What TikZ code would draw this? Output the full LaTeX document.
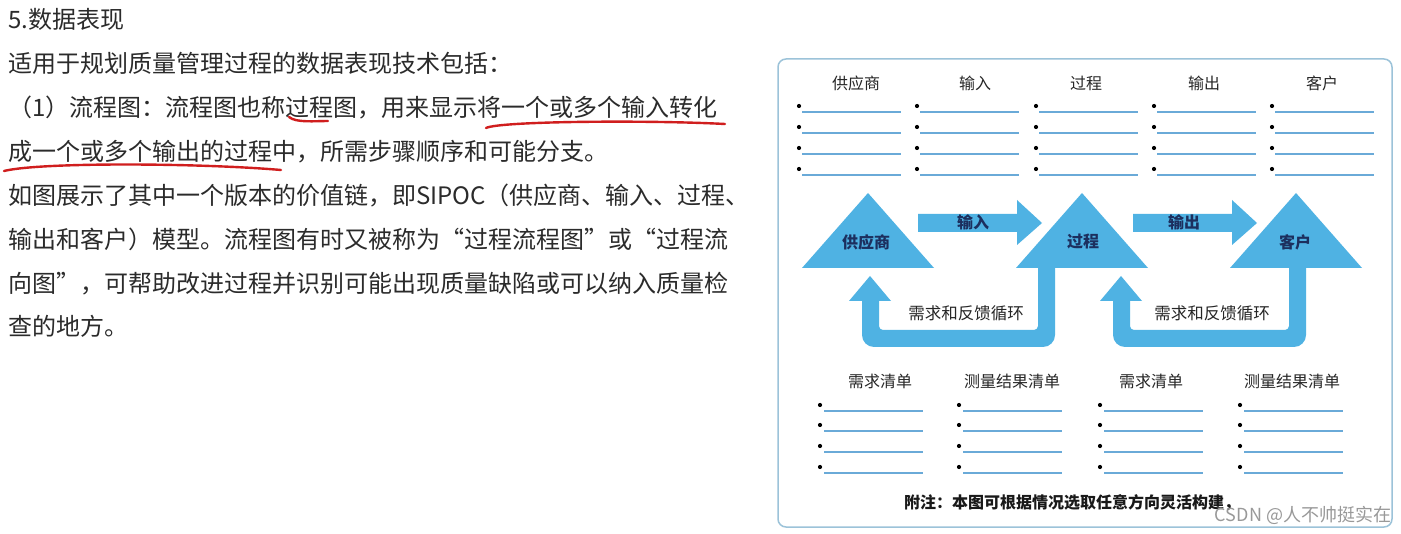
\documentclass[tikz,border=0pt]{standalone}
\usepackage{fontspec}
\setmainfont{Noto Sans CJK SC}
\definecolor{sipoc}{HTML}{4FB2E3}
\definecolor{navy}{HTML}{1C2F5E}
\definecolor{rulecol}{HTML}{6AAAD8}
\definecolor{framecol}{HTML}{9CC3D9}
\definecolor{pen}{HTML}{D01E1E}
\definecolor{bodycol}{HTML}{2B2B2B}
\begin{document}
\begin{tikzpicture}[x=1pt,y=-1pt,
  para/.style={anchor=base west, inner sep=0pt, text=bodycol, font=\fontsize{24}{24}\selectfont},
  hdr/.style={inner sep=0pt, text=black!85, font=\fontsize{16}{16}\selectfont},
  shape fill/.style={fill=sipoc, draw=none},
  trilabel/.style={inner sep=0pt, text=navy, font=\bfseries\fontsize{16}{16}\selectfont},
  looplabel/.style={inner sep=0pt, text=black!85, font=\fontsize{16.5}{16.5}\selectfont},
  listline/.style={draw=rulecol, line width=1.3pt},
  bulletdot/.style={fill=black},
  redmark/.style={draw=pen, line width=2.4pt, line cap=round},
]
\useasboundingbox (0,0) rectangle (1401,534);
\fill[white] (0,0) rectangle (1401,534);

% ---------- left text ----------
\node[para] (l1) at (8,29)  {5.数据表现};
\node[para] (l2) at (8,73)  {适用于规划质量管理过程的数据表现技术包括：};
\node[para] (l3) at (8,117) {（1）流程图：流程图也称过程图，用来显示将一个或多个输入转化};
\node[para] (l4) at (8,161) {成一个或多个输出的过程中，所需步骤顺序和可能分支。};
\node[para] (l5) at (8,205) {如图展示了其中一个版本的价值链，即SIPOC（供应商、输入、过程、};
\node[para] (l6) at (8,249) {输出和客户）模型。流程图有时又被称为“过程流程图”或“过程流};
\node[para] (l7) at (8,293) {向图”，可帮助改进过程并识别可能出现质量缺陷或可以纳入质量检};
\node[para] (l8) at (8,336) {查的地方。};

% red hand-drawn underlines
\draw[redmark] (289,117) .. controls (296,123) and (315,121) .. (328,121);
\draw[redmark] (486,128) .. controls (500,121) and (650,120) .. (725,124);
\draw[redmark] (4,171) .. controls (40,162) and (200,163) .. (281,170);

% ---------- frame ----------
\draw[framecol, line width=1.5pt, rounded corners=8pt] (778,59) rectangle (1392,527);

% top headers
\node[hdr] (hS) at (856,83)  {供应商};
\node[hdr] (hI) at (975,83)  {输入};
\node[hdr] (hP) at (1086,83) {过程};
\node[hdr] (hO) at (1204,83) {输出};
\node[hdr] (hC) at (1322,83) {客户};

\foreach \bx in {799,917,1036,1154,1272} {
  \foreach \by in {106,127,148,169} {
    \fill[bulletdot] (\bx,\by) circle[radius=2.1];
    \draw[listline] (\bx+3,\by+6) -- (\bx+102,\by+6);
  }
}

% ---------- triangles ----------
\fill[shape fill] (802,268) -- (934,268) -- (868,193) -- cycle;
\fill[shape fill] (1016,268) -- (1148,268) -- (1082,193) -- cycle;
\fill[shape fill] (1230,268) -- (1362,268) -- (1296,193) -- cycle;

% block arrows
\fill[shape fill] (918,214) -- (1017,214) -- (1017,200) -- (1042,223) -- (1017,245) -- (1017,232) -- (918,232) -- cycle;
\fill[shape fill] (1133,214) -- (1232,214) -- (1232,200) -- (1257,223) -- (1232,245) -- (1232,232) -- (1133,232) -- cycle;

% feedback loops
\fill[shape fill] (870,276) -- (891,301) -- (879,301) -- (879,326)
  arc[start angle=180, end angle=90, radius=4] -- (1034,330)
  arc[start angle=90, end angle=0, radius=4] -- (1038,266) -- (1055,266) -- (1055,335)
  arc[start angle=0, end angle=90, radius=12] -- (874,347)
  arc[start angle=90, end angle=180, radius=12] -- (862,301) -- (849,301) -- cycle;
\fill[shape fill] (1121,276) -- (1142,301) -- (1130,301) -- (1130,326)
  arc[start angle=180, end angle=90, radius=4] -- (1285,330)
  arc[start angle=90, end angle=0, radius=4] -- (1289,266) -- (1306,266) -- (1306,335)
  arc[start angle=0, end angle=90, radius=12] -- (1125,347)
  arc[start angle=90, end angle=180, radius=12] -- (1113,301) -- (1100,301) -- cycle;

\node[trilabel] (tS) at (866,242)  {供应商};
\node[trilabel] (tP) at (1083,242) {过程};
\node[trilabel] (tC) at (1295,242) {客户};
\node[trilabel] (aI) at (973,222)  {输入};
\node[trilabel] (aO) at (1184,222) {输出};
\node[looplabel] (f1) at (966,313)  {需求和反馈循环};
\node[looplabel] (f2) at (1212,313) {需求和反馈循环};

% bottom headers
\node[hdr] (b1) at (880,381)  {需求清单};
\node[hdr] (b2) at (1012,381) {测量结果清单};
\node[hdr] (b3) at (1151,381) {需求清单};
\node[hdr] (b4) at (1292,381) {测量结果清单};

\foreach \bx in {820,959,1100,1240} {
  \foreach \by in {405,425,446,467} {
    \fill[bulletdot] (\bx,\by) circle[radius=2.1];
    \draw[listline] (\bx+4,\by+6) -- (\bx+103,\by+6);
  }
}

\node[inner sep=0pt, text=black!90, font=\bfseries\fontsize{16}{16}\selectfont] (note) at (1072,503) {附注：本图可根据情况选取任意方向灵活构建，};
\node[inner sep=0pt, text=black!40, font=\fontsize{18}{18}\selectfont] (wm) at (1303,515) {CSDN @人不帅挺实在};
\end{tikzpicture}
\end{document}
